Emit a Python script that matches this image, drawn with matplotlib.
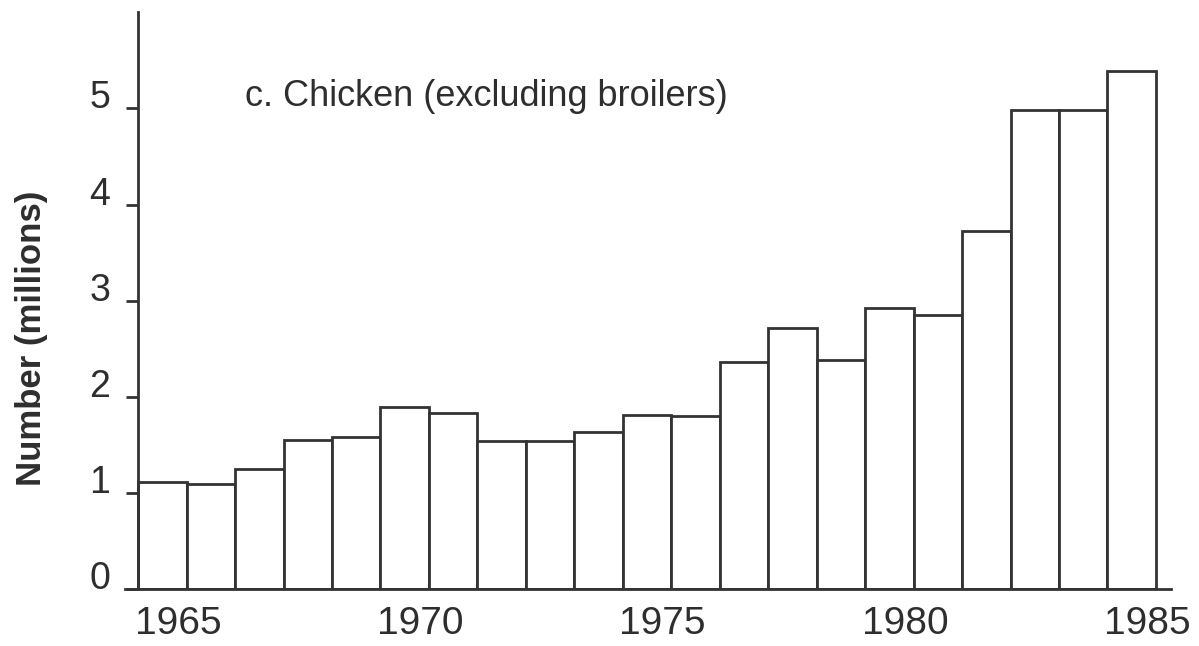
import matplotlib
matplotlib.use("Agg")
import matplotlib.pyplot as plt

years = list(range(1965, 1986))
numbers = [1.11, 1.09, 1.25, 1.55, 1.58, 1.89, 1.83, 1.54, 1.54, 1.63, 1.81,
           1.80, 2.36, 2.72, 2.38, 2.92, 2.85, 3.72, 4.98, 4.98, 5.39]
y_ticks = [0, 1, 2, 3, 4, 5]
x_label_years = [1965, 1970, 1975, 1980, 1985]
title = "c. Chicken (excluding broilers)"
y_label = "Number (millions)"

plt.rcParams["font.family"] = ["Liberation Sans", "DejaVu Sans"]
ink = "#333333"
text_col = "#2e2e2e"

fig = plt.figure(figsize=(11.99, 6.46), dpi=100)
ax = fig.add_axes([0.1043, 0.088, 0.977 - 0.1043, 0.981 - 0.088])

ax.bar(years, numbers, width=1.0, color="white", edgecolor=ink, linewidth=2.0)

ax.set_xlim(1964.23, 1985.82)
ax.set_ylim(0, 6.0)

for s in ("top", "right"):
    ax.spines[s].set_visible(False)
ax.spines["left"].set_position(("data", 1964.5))
ax.spines["left"].set_color(ink)
ax.spines["left"].set_linewidth(2.0)
ax.spines["bottom"].set_color(ink)
ax.spines["bottom"].set_linewidth(2.0)

ax.set_yticks(y_ticks)
ax.set_yticklabels([str(t) for t in y_ticks], fontsize=27, color=text_col)
ax.tick_params(axis="y", direction="out", length=9, width=2, color=ink, pad=11)
for lbl in ax.get_yticklabels():
    lbl.set_va("baseline")

ax.set_xticks([y + 0.32 for y in x_label_years])
ax.set_xticklabels([str(y) for y in x_label_years], fontsize=28, color=text_col)
ax.tick_params(axis="x", length=0, pad=12)

ax.set_ylabel(y_label, fontsize=25, fontweight="bold", color=text_col)
ax.yaxis.set_label_coords(-0.074, 0.435)

ax.text(1966.7, 5.12, title, fontsize=26, color=text_col, va="center", ha="left")

fig.savefig("out.png", dpi=100, facecolor="white")
